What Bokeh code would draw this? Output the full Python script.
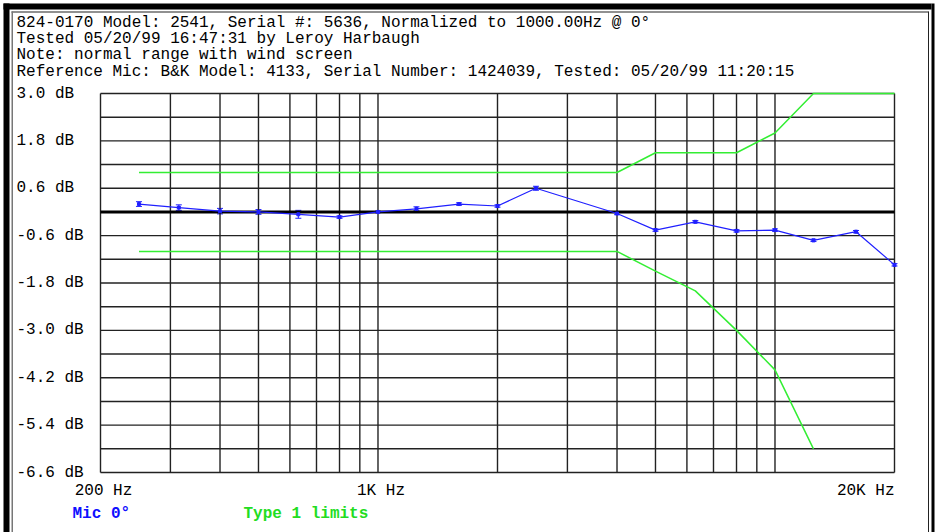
from bokeh.plotting import figure
from bokeh.models import Range1d, BoxAnnotation, ColumnDataSource, Whisker, TeeHead
from bokeh.core.properties import value
from bokeh.embed import file_html
from bokeh.resources import INLINE

# ---- data ----
freqs = [250, 315, 400, 500, 630, 800, 1000, 1250, 1600, 2000, 2500,
         4000, 5000, 6300, 8000, 10000, 12500, 16000, 20000]
mic0 = [0.20, 0.11, 0.02, 0.00, -0.06, -0.13, 0.00, 0.08, 0.20, 0.15, 0.60,
        -0.04, -0.46, -0.25, -0.48, -0.46, -0.72, -0.50, -1.34]
mic0_err = [0.06, 0.07, 0.07, 0.06, 0.10, 0.03, 0.02, 0.05, 0.03, 0.03, 0.05,
            0.03, 0.03, 0.03, 0.03, 0.03, 0.03, 0.03, 0.03]

upper_freqs = [250, 4000, 5000, 8000, 10000, 12500, 20000]
upper_limit = [1.0, 1.0, 1.5, 1.5, 2.0, 3.0, 3.0]
lower_freqs = [250, 4000, 5000, 6300, 8000, 10000, 12500]
lower_limit = [-1.0, -1.0, -1.5, -2.0, -3.0, -4.0, -6.0]

y_ticks = [3.0, 1.8, 0.6, -0.6, -1.8, -3.0, -4.2, -5.4, -6.6]
y_tick_labels = ["3.0 dB", "1.8 dB", "0.6 dB", "-0.6 dB", "-1.8 dB",
                 "-3.0 dB", "-4.2 dB", "-5.4 dB", "-6.6 dB"]
y_grid = [3.0, 2.4, 1.8, 1.2, 0.6, 0.0, -0.6, -1.2, -1.8, -2.4, -3.0,
          -3.6, -4.2, -4.8, -5.4, -6.0, -6.6]
x_ticks = [200, 1000, 20000]
x_tick_labels = ["200 Hz", "1K Hz", "20K Hz"]
x_grid = [200, 300, 400, 500, 600, 700, 800, 900, 1000, 2000, 3000, 4000,
          5000, 6000, 7000, 8000, 9000, 10000, 20000]
X_MIN, X_MAX = 200, 20000
Y_MIN, Y_MAX = -6.6, 3.0

header = [
    "824-0170 Model: 2541, Serial #: 5636, Normalized to 1000.00Hz @ 0\u00b0",
    "Tested 05/20/99 16:47:31 by Leroy Harbaugh",
    "Note: normal range with wind screen",
    "Reference Mic: B&K Model: 4133, Serial Number: 1424039, Tested: 05/20/99 11:20:15",
]
legend_names = ["Mic 0\u00b0", "Type 1 limits"]

# ---- layout (pixels) ----
W, H = 936, 532
PX_L, PX_R, PY_T, PY_B = 100, 894, 93, 472
DEC_PX = (PX_R - PX_L) / 2.0          # pixels per decade
DB_PX = (PY_B - PY_T) / (Y_MAX - Y_MIN)  # pixels per dB


def xd(px):
    return X_MIN * 10 ** ((px - PX_L) / DEC_PX)


def yd(py):
    return Y_MAX - (py - PY_T) / DB_PX


FONT = "Liberation Mono"
BLUE = "#2020ff"
GREEN = "#33ee33"
GRID = "#222222"

p = figure(width=W, height=H, x_axis_type="log",
           x_range=Range1d(xd(0), xd(W)), y_range=Range1d(yd(H), yd(0)),
           x_axis_location=None, y_axis_location=None,
           output_backend="svg", toolbar_location=None,
           min_border=0)
p.background_fill_color = "white"
p.border_fill_color = "white"
p.outline_line_color = None
p.xgrid.visible = False
p.ygrid.visible = False

# grid lines (bounded to plot box)
p.segment(x0=x_grid, y0=[Y_MIN] * len(x_grid), x1=x_grid, y1=[Y_MAX] * len(x_grid),
          line_color=GRID, line_width=1.4)
p.segment(x0=[X_MIN] * len(y_grid), y0=y_grid, x1=[X_MAX] * len(y_grid), y1=y_grid,
          line_color=GRID, line_width=1.4)
# zero line
p.segment(x0=[X_MIN], y0=[0], x1=[X_MAX], y1=[0], line_color="black", line_width=3)

# tick labels
p.text(x=[xd(16)] * len(y_ticks), y=y_ticks, text=y_tick_labels,
       text_font=value(FONT), text_font_size="16px", text_color="black",
       text_align="left", text_baseline="middle")
p.text(x=x_ticks[:2], y=[yd(490)] * 2, text=x_tick_labels[:2],
       text_font=value(FONT), text_font_size="16px", text_color="black",
       text_align="center", text_baseline="middle", x_offset=3)
p.text(x=x_ticks[2:], y=[yd(490)], text=x_tick_labels[2:],
       text_font=value(FONT), text_font_size="16px", text_color="black",
       text_align="right", text_baseline="middle")

# limits
p.line(upper_freqs, upper_limit, line_color=GREEN, line_width=1.5)
p.line(lower_freqs, lower_limit, line_color=GREEN, line_width=1.5)

# mic curve
src = ColumnDataSource(dict(
    f=freqs, v=mic0,
    hi=[v + e for v, e in zip(mic0, mic0_err)],
    lo=[v - e for v, e in zip(mic0, mic0_err)]))
p.line("f", "v", source=src, line_color=BLUE, line_width=1.2)
p.scatter("f", "v", source=src, marker="square", size=3, color=BLUE)
p.add_layout(Whisker(source=src, base="f", upper="hi", lower="lo",
                     line_color=BLUE, line_width=1,
                     upper_head=TeeHead(size=6, line_color=BLUE, line_width=1),
                     lower_head=TeeHead(size=6, line_color=BLUE, line_width=1)))

# header text
p.text(x=[xd(16)] * len(header), y=[yd(22.5 + 16.2 * i) for i in range(len(header))],
       text=header, text_font=value(FONT), text_font_size="16px",
       text_color="black", text_align="left", text_baseline="middle")

# legend texts
p.text(x=[xd(72)], y=[yd(513)], text=legend_names[:1], text_font=value(FONT),
       text_font_size="16px", text_font_style="bold", text_color="#1010ff",
       text_align="left", text_baseline="middle")
p.text(x=[xd(243)], y=[yd(513)], text=legend_names[1:], text_font=value(FONT),
       text_font_size="16px", text_font_style="bold", text_color="#22dd22",
       text_align="left", text_baseline="middle")


# window frame decoration
def box(l, r, t, b, color):
    p.add_layout(BoxAnnotation(left=xd(l), right=xd(r), top=yd(t), bottom=yd(b),
                               fill_color=color, fill_alpha=1.0, line_color=None))


box(3, 931, 3, 9, "black")
box(3, 9, 3, H + 5, "black")
box(931, 934, 3, H + 5, "black")
box(11, 928, 11, 12, "#222222")
box(11, 12.5, 11, H + 5, "#777777")
box(927.5, 928.5, 11, H + 5, "#222222")

open("out.html", "w").write(file_html(p, INLINE))
